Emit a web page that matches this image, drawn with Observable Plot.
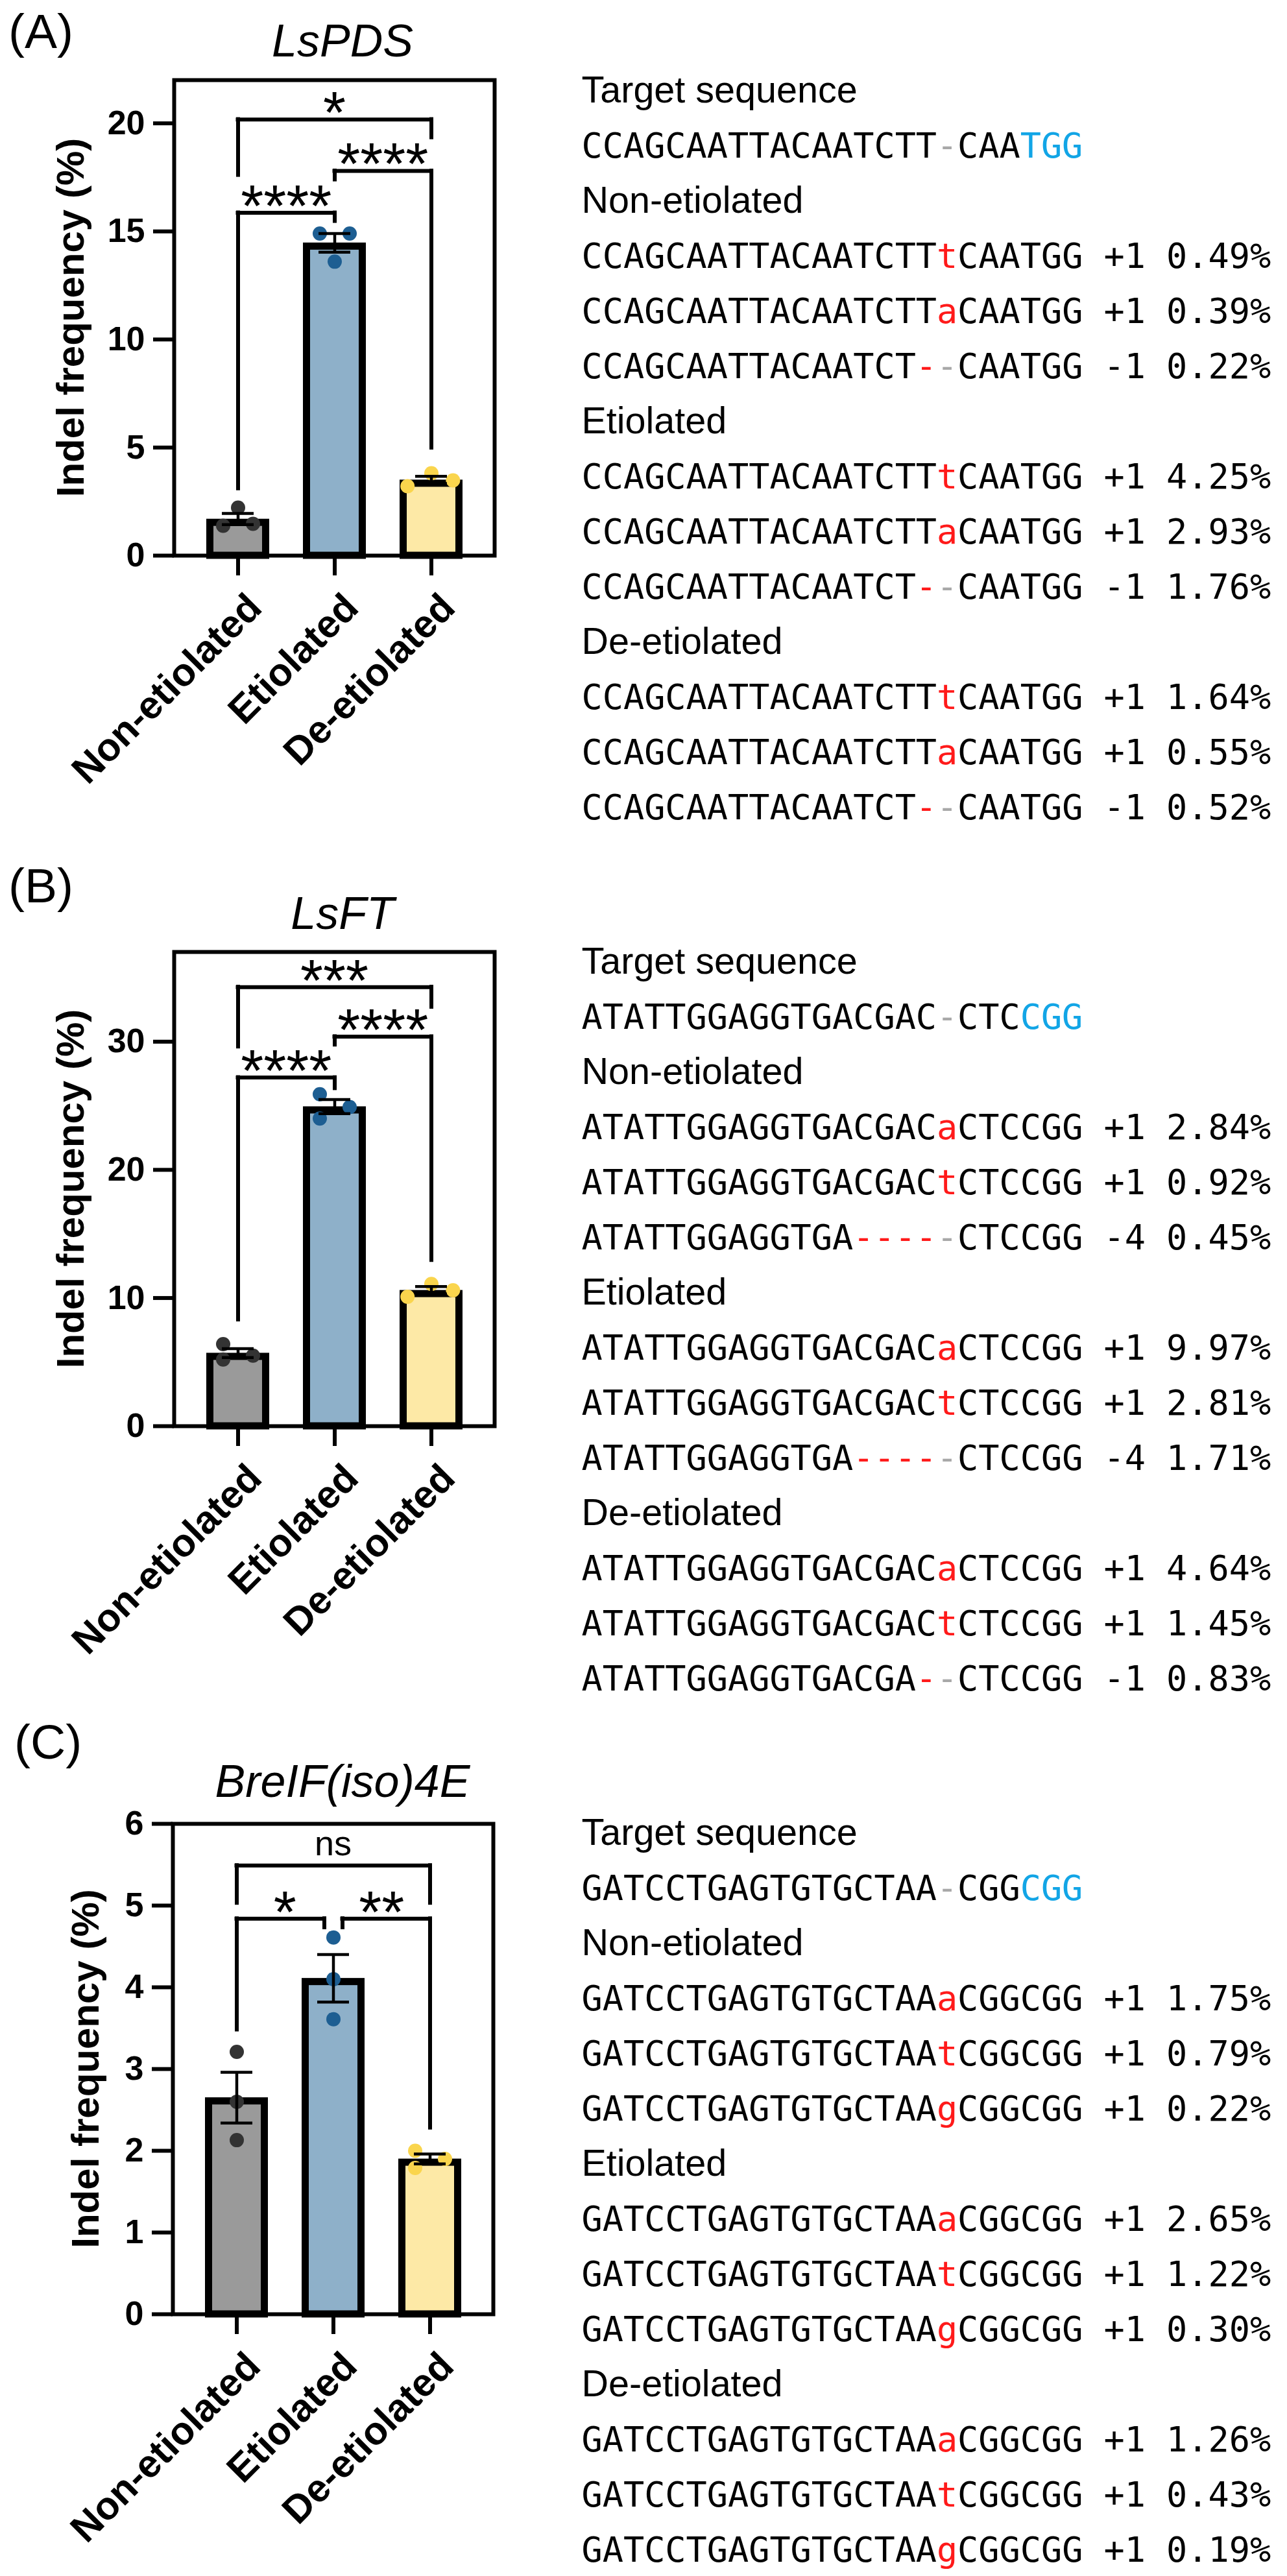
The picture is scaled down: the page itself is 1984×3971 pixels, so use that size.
<!DOCTYPE html>
<html>
<head>
<meta charset="utf-8">
<script src="https://cdn.jsdelivr.net/npm/d3@7"></script>
<script src="https://cdn.jsdelivr.net/npm/@observablehq/plot@0.6"></script>
<style>
  html, body { margin: 0; padding: 0; background: #fff; }
  #fig { position: relative; width: 1984px; height: 3971px; background: #fff; overflow: hidden; }
  #fig > svg { position: absolute; }
</style>
</head>
<body>
<div id="fig"></div>
<script>
// ---------------- DATA ----------------
const groups = ["Non-etiolated", "Etiolated", "De-etiolated"];
const panelLetters = ["(A)", "(B)", "(C)"];
const genes = ["LsPDS", "LsFT", "BreIF(iso)4E"];
const yLabel = "Indel frequency (%)";

// Panel A: LsPDS
const repsA = [[2.22, 1.47, 1.38], [14.9, 14.9, 13.6], [3.81, 3.48, 3.21]];
const meanA = [1.69, 14.47, 3.50];
const semA = [0.26, 0.43, 0.17];
const ticksA = [0, 5, 10, 15, 20];
const yMaxA = 22;
const sigA = [
  {from: "Non-etiolated", to: "Etiolated", label: "****", level: 15.86, leftEnd: 3.1, rightEnd: 15.47},
  {from: "Etiolated", to: "De-etiolated", label: "****", level: 17.8, leftEnd: 17.39, rightEnd: 4.98},
  {from: "Non-etiolated", to: "De-etiolated", label: "*", level: 20.18, leftEnd: 17.6, rightEnd: 19.34}
];

// Panel B: LsFT
const repsB = [[6.4, 5.5, 5.2], [25.9, 24.9, 24.0], [11.1, 10.6, 10.1]];
const meanB = [5.7, 24.93, 10.6];
const semB = [0.35, 0.55, 0.29];
const ticksB = [0, 10, 20, 30];
const yMaxB = 37;
const sigB = [
  {from: "Non-etiolated", to: "Etiolated", label: "****", level: 27.2, leftEnd: 8.3, rightEnd: 26.35},
  {from: "Etiolated", to: "De-etiolated", label: "****", level: 30.4, leftEnd: 29.75, rightEnd: 12.94},
  {from: "Non-etiolated", to: "De-etiolated", label: "***", level: 34.26, leftEnd: 29.6, rightEnd: 32.7}
];

// Panel C: BreIF(iso)4E
const repsC = [[3.21, 2.60, 2.13], [4.61, 4.10, 3.61], [2.00, 1.90, 1.79]];
const meanC = [2.65, 4.11, 1.90];
const semC = [0.31, 0.29, 0.06];
const ticksC = [0, 1, 2, 3, 4, 5, 6];
const yMaxC = 6;
const sigC = [
  {from: "Non-etiolated", to: "Etiolated", label: "*", level: 4.84, leftEnd: 3.48, rightEnd: 4.73, splitRight: true},
  {from: "Etiolated", to: "De-etiolated", label: "**", level: 4.84, leftEnd: 4.73, rightEnd: 2.28, splitLeft: true},
  {from: "Non-etiolated", to: "De-etiolated", label: "ns", level: 5.49, leftEnd: 5.03, rightEnd: 5.03}
];

// Sequences: uppercase = reference base, lowercase = inserted base,
// "~" = deleted base, "-" = alignment gap
const targetA = "CCAGCAATTACAATCTT-CAATGG";
const allelesA = [
  ["CCAGCAATTACAATCTTtCAATGG", "CCAGCAATTACAATCTTaCAATGG", "CCAGCAATTACAATCT~-CAATGG"],
  ["CCAGCAATTACAATCTTtCAATGG", "CCAGCAATTACAATCTTaCAATGG", "CCAGCAATTACAATCT~-CAATGG"],
  ["CCAGCAATTACAATCTTtCAATGG", "CCAGCAATTACAATCTTaCAATGG", "CCAGCAATTACAATCT~-CAATGG"]
];
const indelA = [["+1", "+1", "-1"], ["+1", "+1", "-1"], ["+1", "+1", "-1"]];
const pctA = [[0.49, 0.39, 0.22], [4.25, 2.93, 1.76], [1.64, 0.55, 0.52]];

const targetB = "ATATTGGAGGTGACGAC-CTCCGG";
const allelesB = [
  ["ATATTGGAGGTGACGACaCTCCGG", "ATATTGGAGGTGACGACtCTCCGG", "ATATTGGAGGTGA~~~~-CTCCGG"],
  ["ATATTGGAGGTGACGACaCTCCGG", "ATATTGGAGGTGACGACtCTCCGG", "ATATTGGAGGTGA~~~~-CTCCGG"],
  ["ATATTGGAGGTGACGACaCTCCGG", "ATATTGGAGGTGACGACtCTCCGG", "ATATTGGAGGTGACGA~-CTCCGG"]
];
const indelB = [["+1", "+1", "-4"], ["+1", "+1", "-4"], ["+1", "+1", "-1"]];
const pctB = [[2.84, 0.92, 0.45], [9.97, 2.81, 1.71], [4.64, 1.45, 0.83]];

const targetC = "GATCCTGAGTGTGCTAA-CGGCGG";
const allelesC = [
  ["GATCCTGAGTGTGCTAAaCGGCGG", "GATCCTGAGTGTGCTAAtCGGCGG", "GATCCTGAGTGTGCTAAgCGGCGG"],
  ["GATCCTGAGTGTGCTAAaCGGCGG", "GATCCTGAGTGTGCTAAtCGGCGG", "GATCCTGAGTGTGCTAAgCGGCGG"],
  ["GATCCTGAGTGTGCTAAaCGGCGG", "GATCCTGAGTGTGCTAAtCGGCGG", "GATCCTGAGTGTGCTAAgCGGCGG"]
];
const indelC = [["+1", "+1", "+1"], ["+1", "+1", "+1"], ["+1", "+1", "+1"]];
const pctC = [[1.75, 0.79, 0.22], [2.65, 1.22, 0.30], [1.26, 0.43, 0.19]];
const pamLength = 3;

// ---------------- STYLE / LAYOUT ----------------
const FONT = "'Liberation Sans', Arial, Helvetica, sans-serif";
const MONO = "'DejaVu Sans Mono', 'Liberation Mono', monospace";
const barFills = ["#9a9a9a", "#8eb0c9", "#fde9a6"];
const dotFills = ["#333333", "#1d5e92", "#fad54d"];
const seqClasses = ["base", "ins", "del", "gap", "pam", "label", "num"];
const seqColors = ["#000000", "#ff1a1a", "#ff1a1a", "#a8a8a8", "#12a5e6", "#000000", "#000000"];

const panels = [
  {reps: repsA, mean: meanA, sem: semA, ticks: ticksA, yMax: yMaxA, sig: sigA,
   target: targetA, alleles: allelesA, indel: indelA, pct: pctA},
  {reps: repsB, mean: meanB, sem: semB, ticks: ticksB, yMax: yMaxB, sig: sigB,
   target: targetB, alleles: allelesB, indel: indelB, pct: pctB},
  {reps: repsC, mean: meanC, sem: semC, ticks: ticksC, yMax: yMaxC, sig: sigC,
   target: targetC, alleles: allelesC, indel: indelC, pct: pctC}
];

const layouts = [
  {top: 123, zero: 856, axisX: 268, rightX: 762, textBase: 157, letterX: 13, letterY: 74, titleY: 87, ylabX: 129},
  {top: 1467, zero: 2198, axisX: 268, rightX: 762, textBase: 1500, letterX: 13, letterY: 1391, titleY: 1432, ylabX: 129},
  {top: 2811, zero: 3567, axisX: 266, rightX: 760, textBase: 2843, letterX: 22, letterY: 2711, titleY: 2770, ylabX: 152}
];

const fig = d3.select("#fig");

// overlay for panel letters, gene titles, y labels
const overlay = fig.append("svg")
  .attr("width", 1984).attr("height", 3971)
  .style("left", "0px").style("top", "0px")
  .style("font-family", FONT);

// decide horizontal side of each replicate dot (GraphPad-like spreading)
function dotSides(vals, pxPerUnit, D = 22) {
  const order = d3.range(vals.length).sort((a, b) => vals[b] - vals[a]);
  const hit = (a, b) => Math.abs(vals[a] - vals[b]) * pxPerUnit < D;
  const comps = [];
  let cur = [order[0]];
  for (let k = 1; k < order.length; k++) {
    if (hit(order[k - 1], order[k])) cur.push(order[k]);
    else { comps.push(cur); cur = [order[k]]; }
  }
  comps.push(cur);
  const off = vals.map(() => 0);
  for (const c of comps) {
    if (c.length === 2) { off[c[0]] = 1; off[c[1]] = -1; }
    else if (c.length === 3) {
      if (hit(c[0], c[2])) { off[c[0]] = 0; off[c[1]] = 1.45; off[c[2]] = -1.6; }
      else { off[c[0]] = -1; off[c[1]] = 1; off[c[2]] = -1; }
    }
  }
  return off;
}

function barPanel(P, L, pi) {
  const W = 820, mt = 12, mb = 380;
  const ml = L.axisX, mr = W - L.rightX;
  const plotH = L.zero - L.top;
  const H = mt + plotH + mb;
  const pIn = 0.351, pOut = 0.328;
  const n = groups.length;
  const step = (L.rightX - L.axisX) / (n - pIn + 2 * pOut);
  const bw = step * (1 - pIn);
  const pxPerUnit = plotH / P.yMax;
  const SW = 11;

  const bars = groups.map((g, i) => ({group: g, mean: P.mean[i], sem: P.sem[i], i}));
  const pts = [];
  groups.forEach((g, i) => {
    const off = dotSides(P.reps[i], pxPerUnit);
    P.reps[i].forEach((v, j) => pts.push({group: g, value: v, off: off[j], i}));
  });

  const bracketMarks = P.sig.flatMap(b => {
    const gL = b.splitLeft ? 14 : 0, gR = b.splitRight ? 14 : 0;
    const k = groups.indexOf(b.to) - groups.indexOf(b.from);
    const isStar = /^\*+$/.test(b.label);
    const common = {stroke: "black", strokeWidth: 6, strokeLinecap: "square"};
    return [
      Plot.ruleX([b], {x: "from", y1: "leftEnd", y2: "level", dx: gL, ...common}),
      Plot.ruleX([b], {x: "to", y1: "rightEnd", y2: "level", dx: -gR, ...common}),
      Plot.ruleY([b], {x1: "from", x2: "to", y: "level", insetLeft: bw / 2 + gL, insetRight: bw / 2 + gR, ...common}),
      Plot.text([b], {x: "to", y: "level", text: "label", dx: -k * step / 2, dy: isStar ? 21 : -16,
        lineAnchor: "bottom", textAnchor: "middle",
        fontSize: isStar ? 90 : 54, fontFamily: FONT, fill: "black"})
    ];
  });

  const dotMarks = d3.groups(pts, d => d.off).map(([off, arr]) =>
    Plot.dot(arr, {x: "group", y: "value", r: 11, fill: d => dotFills[d.i], stroke: "none", dx: off * 23}));

  const svg = Plot.plot({
    width: W, height: H,
    marginLeft: ml, marginRight: mr, marginTop: mt, marginBottom: mb,
    style: {fontFamily: FONT, background: "transparent", overflow: "visible", color: "black"},
    x: {type: "band", domain: groups, paddingInner: pIn, paddingOuter: pOut, label: null, axis: null},
    y: {domain: [0, P.yMax], label: null, axis: null},
    color: {type: "identity"},
    marks: [
      Plot.barY(bars, {x: "group", y: "mean", fill: d => barFills[d.i], stroke: "black", strokeWidth: SW,
        insetLeft: SW / 2, insetRight: SW / 2, insetTop: SW / 2}),
      ...dotMarks,
      Plot.ruleX(bars, {x: "group", y1: d => d.mean - d.sem, y2: d => d.mean + d.sem, stroke: "black", strokeWidth: 4.5}),
      Plot.tickY(bars, {x: "group", y: d => d.mean + d.sem, stroke: "black", strokeWidth: 4.5, insetLeft: (bw - 49) / 2, insetRight: (bw - 49) / 2}),
      Plot.tickY(bars, {x: "group", y: d => d.mean - d.sem, stroke: "black", strokeWidth: 4.5, insetLeft: (bw - 49) / 2, insetRight: (bw - 49) / 2}),
      ...bracketMarks,
      Plot.frame({stroke: "black", strokeWidth: 6}),
      Plot.axisY({ticks: P.ticks, tickSize: 32, tickPadding: 13, fontSize: 52, fontWeight: "bold",
        strokeWidth: 6, stroke: "black", fill: "black", label: null, tickFormat: d => String(d)}),
      Plot.axisX({tickSize: 31, strokeWidth: 6, stroke: "black", tickFormat: () => "", label: null}),
      Plot.axisX({tickSize: 0, tickRotate: -45, tickPadding: 70, dx: 26, fontSize: 60, fontWeight: "bold",
        fill: "black", label: null})
    ]
  });
  svg.style.left = "0px";
  svg.style.top = (L.top - mt) + "px";
  fig.node().appendChild(svg);
}

function seqRuns(s, pam) {
  const chars = [...s];
  const cls = chars.map((c, i) => c === "-" ? "gap" : c === "~" ? "del"
    : (c !== c.toUpperCase() ? "ins" : (i >= chars.length - pam ? "pam" : "base")));
  const runs = [];
  chars.forEach((c, i) => {
    const t = c === "~" ? "-" : c;
    const last = runs[runs.length - 1];
    if (last && last.cls === cls[i]) last.text += t;
    else runs.push({col: i, text: t, cls: cls[i]});
  });
  return runs;
}

function seqPanel(P, L) {
  const left = 880, W = 1984 - left, mt = 70, lineH = 85, pitch = 32.2, x0 = 16;
  const rows = [];
  rows.push({row: 0, col: 0, text: "Target sequence", cls: "label"});
  seqRuns(P.target, pamLength).forEach(r => rows.push({row: 1, ...r}));
  groups.forEach((g, gi) => {
    const base = 2 + gi * 4;
    rows.push({row: base, col: 0, text: g, cls: "label"});
    P.alleles[gi].forEach((s, k) => {
      seqRuns(s, 0).forEach(r => rows.push({row: base + 1 + k, ...r}));
      rows.push({row: base + 1 + k, col: 25, text: P.indel[gi][k], cls: "num"});
      rows.push({row: base + 1 + k, col: 28, text: P.pct[gi][k].toFixed(2) + "%", cls: "num"});
    });
  });
  const nRows = 13;
  const H = mt + nRows * lineH + 40;
  const svg = Plot.plot({
    width: W, height: H, margin: 0,
    style: {background: "transparent", overflow: "visible"},
    x: {domain: [0, 33], range: [x0, x0 + 33 * pitch], axis: null},
    y: {domain: [0, nRows], range: [mt, mt + nRows * lineH], axis: null},
    color: {domain: seqClasses, range: seqColors},
    marks: [
      Plot.text(rows.filter(d => d.cls === "label"), {x: "col", y: "row", text: "text", fill: "cls",
        textAnchor: "start", lineAnchor: "bottom", fontFamily: FONT, fontSize: 57.5}),
      Plot.text(rows.filter(d => d.cls !== "label"), {x: "col", y: "row", text: "text", fill: "cls",
        textAnchor: "start", lineAnchor: "bottom", fontFamily: MONO, fontSize: 53.5})
    ]
  });
  svg.style.left = left + "px";
  svg.style.top = (L.textBase - mt) + "px";
  fig.node().appendChild(svg);
}

panels.forEach((P, pi) => {
  const L = layouts[pi];
  overlay.append("text").attr("x", L.letterX).attr("y", L.letterY)
    .attr("font-size", 75).text(panelLetters[pi]);
  overlay.append("text").attr("x", 528).attr("y", L.titleY)
    .attr("font-size", 70).attr("font-style", "italic").attr("text-anchor", "middle").text(genes[pi]);
  overlay.append("text")
    .attr("transform", `translate(${L.ylabX},${(L.top + L.zero) / 2}) rotate(-90)`)
    .attr("font-size", 60).attr("font-weight", "bold").attr("text-anchor", "middle").text(yLabel);
  barPanel(P, L, pi);
  seqPanel(P, L);
});
</script>
</body>
</html>
